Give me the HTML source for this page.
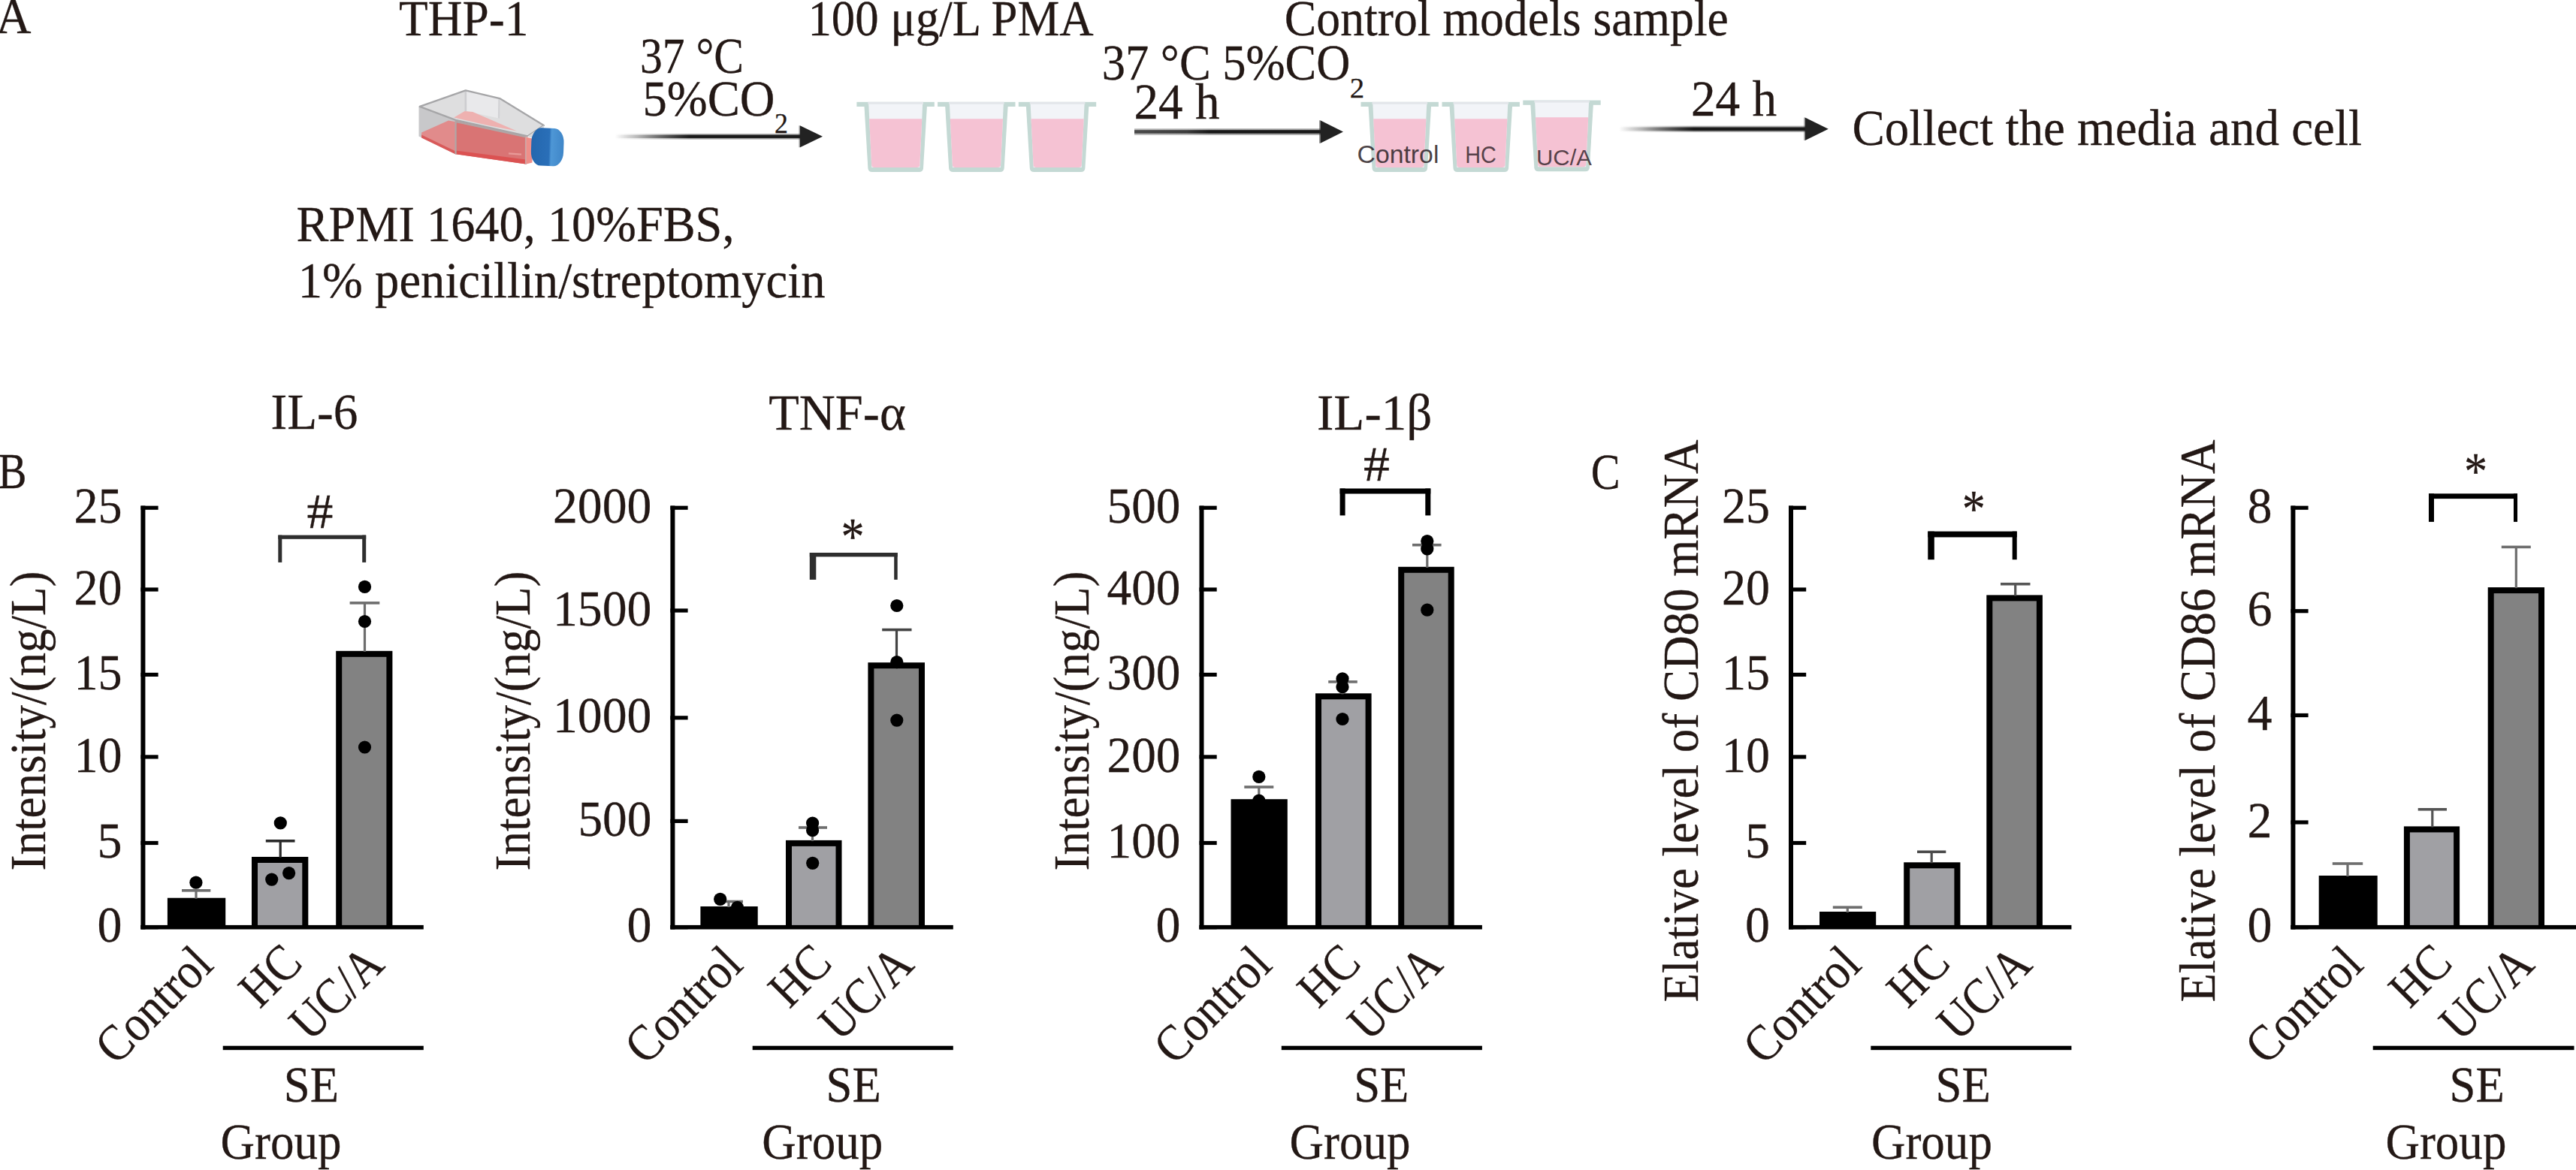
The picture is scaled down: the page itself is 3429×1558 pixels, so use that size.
<!DOCTYPE html>
<html><head><meta charset="utf-8"><title>Figure</title>
<style>html,body{margin:0;padding:0;background:#fff;}body{width:3429px;height:1558px;overflow:hidden;}svg{display:block;}.s{font-family:"Liberation Serif",serif;stroke:#231815;stroke-width:0.3px;}.n{font-family:"Liberation Sans",sans-serif;}</style></head><body>
<svg width="3429" height="1558" viewBox="0 0 3429 1558">
<defs>
<linearGradient id="fade" x1="0" y1="0" x2="1" y2="0"><stop offset="0" stop-color="#222" stop-opacity="0"/><stop offset="0.12" stop-color="#222" stop-opacity="0.25"/><stop offset="0.40" stop-color="#1a1a1a" stop-opacity="1"/><stop offset="1" stop-color="#1a1a1a" stop-opacity="1"/></linearGradient>
<linearGradient id="gray" x1="0" y1="0" x2="1" y2="0"><stop offset="0" stop-color="#4a4a4a"/><stop offset="0.28" stop-color="#3c3c3c"/><stop offset="0.40" stop-color="#181818"/><stop offset="1" stop-color="#181818"/></linearGradient>
<linearGradient id="capg" x1="0" y1="0" x2="1" y2="0"><stop offset="0" stop-color="#2467ae"/><stop offset="0.55" stop-color="#2a6fb8"/><stop offset="0.62" stop-color="#4e97d6"/><stop offset="1" stop-color="#3f86c8"/></linearGradient>
</defs>
<rect x="0.0" y="0.0" width="3429.0" height="1558.0" fill="#fff"/>
<text class="s" x="-5.5" y="44.3" font-size="68" fill="#231815" textLength="47.0" lengthAdjust="spacingAndGlyphs">A</text>
<text class="s" x="531.0" y="47.2" font-size="68" fill="#231815" textLength="172.5" lengthAdjust="spacingAndGlyphs">THP-1</text>
<text class="s" x="851.9" y="96.9" font-size="68" fill="#231815" textLength="138.1" lengthAdjust="spacingAndGlyphs">37 °C</text>
<text class="s" x="855.5" y="153.7" font-size="68" fill="#231815" textLength="176.0" lengthAdjust="spacingAndGlyphs">5%CO</text>
<text class="s" x="1031.0" y="177.3" font-size="38" fill="#231815" textLength="17.9" lengthAdjust="spacingAndGlyphs">2</text>
<text class="s" x="394.5" y="321.4" font-size="68" fill="#231815" textLength="583.0" lengthAdjust="spacingAndGlyphs">RPMI 1640, 10%FBS,</text>
<text class="s" x="396.8" y="396.0" font-size="68" fill="#231815" textLength="701.7" lengthAdjust="spacingAndGlyphs">1% penicillin/streptomycin</text>
<text class="s" x="1075.4" y="46.6" font-size="68" fill="#231815" textLength="380.3" lengthAdjust="spacingAndGlyphs">100 μg/L PMA</text>
<text class="s" x="1466.7" y="106.2" font-size="68" fill="#231815" textLength="330.8" lengthAdjust="spacingAndGlyphs">37 °C 5%CO</text>
<text class="s" x="1796.7" y="129.5" font-size="38" fill="#231815" textLength="19.4" lengthAdjust="spacingAndGlyphs">2</text>
<text class="s" x="1509.5" y="158.4" font-size="68" fill="#231815" textLength="114.0" lengthAdjust="spacingAndGlyphs">24 h</text>
<text class="s" x="1709.8" y="46.6" font-size="68" fill="#231815" textLength="591.1" lengthAdjust="spacingAndGlyphs">Control models sample</text>
<text class="s" x="2250.9" y="153.7" font-size="68" fill="#231815" textLength="114.2" lengthAdjust="spacingAndGlyphs">24 h</text>
<text class="s" x="2465.5" y="193.3" font-size="68" fill="#231815" textLength="678.5" lengthAdjust="spacingAndGlyphs">Collect the media and cell</text>
<rect x="818.6" y="178.0" width="247.9" height="7.6" fill="url(#fade)" opacity="0.38"/>
<rect x="818.6" y="179.7" width="247.9" height="4.2" fill="url(#fade)"/>
<polygon points="1063.5,167.3 1063.5,196.3 1065.0,196.3 1065.0,167.3" fill="#222" opacity="0.45"/>
<polygon points="1065.0,167.3 1095.0,181.8 1065.0,196.3" fill="#222"/>
<rect x="1510.0" y="171.2" width="249.0" height="8.7" fill="url(#gray)" opacity="0.38"/>
<rect x="1510.0" y="173.2" width="249.0" height="4.5" fill="url(#gray)"/>
<polygon points="1756.0,160.2 1756.0,190.8 1757.5,190.8 1757.5,160.2" fill="#222" opacity="0.45"/>
<polygon points="1757.5,160.2 1788.0,175.5 1757.5,190.8" fill="#222"/>
<rect x="2155.0" y="167.6" width="249.3" height="8.4" fill="url(#fade)" opacity="0.38"/>
<rect x="2155.0" y="169.5" width="249.3" height="4.6" fill="url(#fade)"/>
<polygon points="2401.3,156.6 2401.3,187.0 2402.8,187.0 2402.8,156.6" fill="#222" opacity="0.45"/>
<polygon points="2402.8,156.6 2433.8,171.8 2402.8,187.0" fill="#222"/>
<g id="flask">
<polygon points="557.5,142 606.6,160 606.6,205.3 557.5,181.4" fill="#c8c8ca"/>
<polygon points="558.7,141.9 619.8,120.3 665.2,131.1 723.9,167 702.3,181.4 606.6,159.8" fill="#dededf"/>
<polygon points="619.8,120.3 665.2,131.1 664,157.4 620,148" fill="#e9e9eb"/>
<line x1="619.8" y1="121" x2="619.9" y2="148" stroke="#cdcdd0" stroke-width="2.6"/>
<line x1="664.4" y1="132.3" x2="664" y2="157.4" stroke="#d2d2d5" stroke-width="2.2"/>
<polygon points="604.2,156.4 618.6,148 629.3,149 688,174.4 649.7,167" fill="#eeb1b0"/>
<polygon points="561.1,176.6 597,160.6 606.6,162.2 606.6,205.3 561.1,182.8" fill="#e18b8b"/>
<polygon points="561.1,179.5 606.6,201.5 606.6,205.6 561.1,183.6" fill="#d95a5a"/>
<polygon points="606.6,160.6 699.9,181.2 699.9,218.5 606.6,205.3" fill="#d97474"/>
<polygon points="606.6,200.6 699.9,212.6 699.9,218.5 606.6,205.3" fill="#db5252"/>
<polygon points="677,203.2 694,204.6 694,206.8 677,205.4" fill="#e89a98"/>
<polygon points="558.7,141.9 619.8,120.3 665.2,131.1 723.9,167 702.3,181.4 606.6,159.8" fill="none" stroke="#a6a6a8" stroke-width="2.3" stroke-linejoin="round"/>
<polyline points="606.6,205.3 606.6,162 700.5,182.5" fill="none" stroke="#b0a6a6" stroke-width="2.2"/>
<line x1="699.9" y1="181.5" x2="699.9" y2="219" stroke="#c9a5a5" stroke-width="2"/>
<polygon points="700.5,182.6 708.5,184.5 708.5,216.5 700.5,218.6" fill="#ee8f8a"/>
<polygon points="702.3,181.4 723.9,167 723.9,172 708.3,184" fill="#dadadc"/>
<rect x="707.1" y="170.6" width="43.2" height="50.3" rx="13" ry="19" fill="url(#capg)" transform="rotate(2 728.7 195.7)"/>
</g>
<g transform="translate(1140.4,135.8)">
<rect x="0" y="0" width="103.4" height="6.2" fill="#c4d9d4"/>
<path d="M9.9,3 L93.7,3 L88.6,88.1 Q88.3,93.1 83,93.1 L20.6,93.1 Q15.3,93.1 15,88.1 Z" fill="#c4d9d4"/>
<path d="M15.8,1.5 L87.8,1.5 L83.9,87.1 L19.9,87.1 Z" fill="#f2f4f8"/>
<rect x="15" y="0" width="73.6" height="3" fill="#e3e6ea"/>
<path d="M16.7,22.5 L86.9,22.5 L83.9,84.1 Q83.7,87.1 80,87.1 L23.6,87.1 Q20,87.1 19.8,84.1 Z" fill="#f5c2d3"/>
</g>
<g transform="translate(1248.1,135.8)">
<rect x="0" y="0" width="103.4" height="6.2" fill="#c4d9d4"/>
<path d="M9.9,3 L93.7,3 L88.6,88.1 Q88.3,93.1 83,93.1 L20.6,93.1 Q15.3,93.1 15,88.1 Z" fill="#c4d9d4"/>
<path d="M15.8,1.5 L87.8,1.5 L83.9,87.1 L19.9,87.1 Z" fill="#f2f4f8"/>
<rect x="15" y="0" width="73.6" height="3" fill="#e3e6ea"/>
<path d="M16.7,22.5 L86.9,22.5 L83.9,84.1 Q83.7,87.1 80,87.1 L23.6,87.1 Q20,87.1 19.8,84.1 Z" fill="#f5c2d3"/>
</g>
<g transform="translate(1355.8,135.8)">
<rect x="0" y="0" width="103.4" height="6.2" fill="#c4d9d4"/>
<path d="M9.9,3 L93.7,3 L88.6,88.1 Q88.3,93.1 83,93.1 L20.6,93.1 Q15.3,93.1 15,88.1 Z" fill="#c4d9d4"/>
<path d="M15.8,1.5 L87.8,1.5 L83.9,87.1 L19.9,87.1 Z" fill="#f2f4f8"/>
<rect x="15" y="0" width="73.6" height="3" fill="#e3e6ea"/>
<path d="M16.7,22.5 L86.9,22.5 L83.9,84.1 Q83.7,87.1 80,87.1 L23.6,87.1 Q20,87.1 19.8,84.1 Z" fill="#f5c2d3"/>
</g>
<g transform="translate(1811.5,135.8)">
<rect x="0" y="0" width="103.4" height="6.2" fill="#c4d9d4"/>
<path d="M9.9,3 L93.7,3 L88.6,88.1 Q88.3,93.1 83,93.1 L20.6,93.1 Q15.3,93.1 15,88.1 Z" fill="#c4d9d4"/>
<path d="M15.8,1.5 L87.8,1.5 L83.9,87.1 L19.9,87.1 Z" fill="#f2f4f8"/>
<rect x="15" y="0" width="73.6" height="3" fill="#e3e6ea"/>
<path d="M16.7,22.5 L86.9,22.5 L83.9,84.1 Q83.7,87.1 80,87.1 L23.6,87.1 Q20,87.1 19.8,84.1 Z" fill="#f5c2d3"/>
</g>
<g transform="translate(1919.5,135.8)">
<rect x="0" y="0" width="103.4" height="6.2" fill="#c4d9d4"/>
<path d="M9.9,3 L93.7,3 L88.6,88.1 Q88.3,93.1 83,93.1 L20.6,93.1 Q15.3,93.1 15,88.1 Z" fill="#c4d9d4"/>
<path d="M15.8,1.5 L87.8,1.5 L83.9,87.1 L19.9,87.1 Z" fill="#f2f4f8"/>
<rect x="15" y="0" width="73.6" height="3" fill="#e3e6ea"/>
<path d="M16.7,22.5 L86.9,22.5 L83.9,84.1 Q83.7,87.1 80,87.1 L23.6,87.1 Q20,87.1 19.8,84.1 Z" fill="#f5c2d3"/>
</g>
<g transform="translate(2027.3,133.6)">
<rect x="0" y="0" width="103.4" height="6.2" fill="#c4d9d4"/>
<path d="M9.9,3 L93.7,3 L88.6,89.6 Q88.3,94.6 83,94.6 L20.6,94.6 Q15.3,94.6 15,89.6 Z" fill="#c4d9d4"/>
<path d="M15.8,1.5 L87.8,1.5 L83.9,88.6 L19.9,88.6 Z" fill="#f2f4f8"/>
<rect x="15" y="0" width="73.6" height="3" fill="#e3e6ea"/>
<path d="M16.7,22.6 L86.9,22.6 L83.9,85.6 Q83.7,88.6 80,88.6 L23.6,88.6 Q20,88.6 19.8,85.6 Z" fill="#f5c2d3"/>
</g>
<text class="n" x="1806.5" y="217.1" font-size="33.5" fill="#2b2226" textLength="108.9" lengthAdjust="spacingAndGlyphs" fill-opacity="0.85">Control</text>
<text class="n" x="1950.3" y="217.1" font-size="30.5" fill="#3a2a30" textLength="41.6" lengthAdjust="spacingAndGlyphs" fill-opacity="0.85">HC</text>
<text class="n" x="2045.0" y="219.9" font-size="30" fill="#3a2a30" textLength="74.0" lengthAdjust="spacingAndGlyphs" fill-opacity="0.85">UC/A</text>
<rect x="222.9" y="1195.7" width="77.3" height="39.0" fill="#000"/>
<rect x="335.0" y="1141.0" width="75.3" height="93.7" fill="#000"/>
<rect x="343.0" y="1149.0" width="59.3" height="85.7" fill="#a0a0a4"/>
<rect x="447.2" y="866.8" width="75.2" height="367.9" fill="#000"/>
<rect x="455.2" y="874.8" width="59.2" height="359.9" fill="#828282"/>
<rect x="259.4" y="1185.8" width="3.2" height="10.9" fill="#6e6e6e"/>
<rect x="242.0" y="1184.0" width="38.3" height="3.6" fill="#6e6e6e"/>
<rect x="371.6" y="1119.8" width="3.2" height="22.2" fill="#2a2a2a"/>
<rect x="353.8" y="1118.0" width="38.7" height="3.6" fill="#2a2a2a"/>
<rect x="483.9" y="802.9" width="3.2" height="64.9" fill="#6e6e6e"/>
<rect x="465.6" y="801.1" width="39.7" height="3.6" fill="#6e6e6e"/>
<circle cx="260.9" cy="1175.2" r="8.6" fill="#000"/>
<circle cx="373.3" cy="1095.9" r="8.6" fill="#000"/>
<circle cx="361.7" cy="1171.1" r="8.6" fill="#000"/>
<circle cx="384.6" cy="1162.6" r="8.6" fill="#000"/>
<circle cx="485.5" cy="781.4" r="8.6" fill="#000"/>
<circle cx="485.5" cy="827.5" r="8.6" fill="#000"/>
<circle cx="485.5" cy="995.0" r="8.6" fill="#000"/>
<rect x="187.4" y="673.5" width="6.0" height="564.0" fill="#000"/>
<rect x="187.4" y="1231.9" width="376.4" height="5.6" fill="#000"/>
<rect x="187.4" y="1232.1" width="23.2" height="5.2" fill="#000"/>
<rect x="187.4" y="1119.9" width="23.2" height="5.2" fill="#000"/>
<rect x="187.4" y="1005.3" width="23.2" height="5.2" fill="#000"/>
<rect x="187.4" y="895.8" width="23.2" height="5.2" fill="#000"/>
<rect x="187.4" y="782.4" width="23.2" height="5.2" fill="#000"/>
<rect x="187.4" y="673.6" width="23.2" height="5.2" fill="#000"/>
<text class="s" x="129.4" y="1254.3" font-size="68" fill="#231815" textLength="33.0" lengthAdjust="spacingAndGlyphs">0</text>
<text class="s" x="129.4" y="1142.1" font-size="68" fill="#231815" textLength="33.0" lengthAdjust="spacingAndGlyphs">5</text>
<text class="s" x="98.4" y="1027.5" font-size="68" fill="#231815" textLength="64.0" lengthAdjust="spacingAndGlyphs">10</text>
<text class="s" x="98.4" y="918.0" font-size="68" fill="#231815" textLength="64.0" lengthAdjust="spacingAndGlyphs">15</text>
<text class="s" x="98.4" y="804.6" font-size="68" fill="#231815" textLength="64.0" lengthAdjust="spacingAndGlyphs">20</text>
<text class="s" x="98.4" y="695.8" font-size="68" fill="#231815" textLength="64.0" lengthAdjust="spacingAndGlyphs">25</text>
<rect x="370.3" y="712.6" width="116.9" height="5.2" fill="#2e2e2e"/>
<rect x="370.3" y="712.6" width="5.0" height="36.3" fill="#2e2e2e"/>
<rect x="482.2" y="712.6" width="5.0" height="36.3" fill="#2e2e2e"/>
<text class="s" x="408.4" y="703.4" font-size="65" fill="#231815" textLength="34.9" lengthAdjust="spacingAndGlyphs">#</text>
<g transform="translate(286.6,1287.8) rotate(-45)"><text class="s" x="-187.0" y="0" font-size="68" fill="#231815" textLength="187.0" lengthAdjust="spacingAndGlyphs">Control</text></g>
<g transform="translate(405.2,1285.2) rotate(-45)"><text class="s" x="-84.0" y="0" font-size="68" fill="#231815" textLength="84.0" lengthAdjust="spacingAndGlyphs">HC</text></g>
<g transform="translate(514.0,1287.5) rotate(-45)"><text class="s" x="-143.0" y="0" font-size="68" fill="#231815" textLength="143.0" lengthAdjust="spacingAndGlyphs">UC/A</text></g>
<rect x="296.7" y="1392.7" width="267.1" height="5.5" fill="#000"/>
<text class="s" x="377.8" y="1466.6" font-size="68" fill="#231815" textLength="73.2" lengthAdjust="spacingAndGlyphs">SE</text>
<text class="s" x="293.5" y="1542.6" font-size="68" fill="#231815" textLength="161.0" lengthAdjust="spacingAndGlyphs">Group</text>
<g transform="translate(59.8,1159.5) rotate(-90)"><text class="s" x="0" y="0" font-size="68" fill="#231815" textLength="399.0" lengthAdjust="spacingAndGlyphs">Intensity/(ng/L)</text></g>
<text class="s" x="360.5" y="570.8" font-size="68" fill="#231815" textLength="116.0" lengthAdjust="spacingAndGlyphs">IL-6</text>
<rect x="932.4" y="1207.0" width="76.3" height="27.7" fill="#000"/>
<rect x="1046.0" y="1118.9" width="74.5" height="115.8" fill="#000"/>
<rect x="1054.0" y="1126.9" width="58.5" height="107.8" fill="#a0a0a4"/>
<rect x="1155.4" y="882.2" width="75.6" height="352.5" fill="#000"/>
<rect x="1163.4" y="890.2" width="59.6" height="344.5" fill="#828282"/>
<rect x="968.4" y="1200.5" width="3.2" height="7.5" fill="#6e6e6e"/>
<rect x="958.0" y="1198.7" width="31.0" height="3.6" fill="#6e6e6e"/>
<rect x="1079.9" y="1102.0" width="3.2" height="17.9" fill="#6e6e6e"/>
<rect x="1063.0" y="1100.2" width="38.0" height="3.6" fill="#6e6e6e"/>
<rect x="1191.9" y="838.6" width="3.2" height="44.6" fill="#444"/>
<rect x="1174.2" y="836.8" width="39.3" height="3.6" fill="#444"/>
<circle cx="958.7" cy="1197.3" r="8.6" fill="#000"/>
<circle cx="981.5" cy="1208.3" r="8.6" fill="#000"/>
<circle cx="1081.6" cy="1096.0" r="8.6" fill="#000"/>
<circle cx="1081.6" cy="1105.7" r="8.6" fill="#000"/>
<circle cx="1081.7" cy="1149.3" r="8.6" fill="#000"/>
<circle cx="1193.8" cy="806.5" r="8.6" fill="#000"/>
<circle cx="1193.8" cy="881.7" r="8.6" fill="#000"/>
<circle cx="1193.8" cy="959.1" r="8.6" fill="#000"/>
<rect x="892.4" y="673.5" width="6.0" height="564.0" fill="#000"/>
<rect x="892.4" y="1231.9" width="376.4" height="5.6" fill="#000"/>
<rect x="892.4" y="1232.1" width="23.2" height="5.2" fill="#000"/>
<rect x="892.4" y="1090.8" width="23.2" height="5.2" fill="#000"/>
<rect x="892.4" y="953.2" width="23.2" height="5.2" fill="#000"/>
<rect x="892.4" y="810.4" width="23.2" height="5.2" fill="#000"/>
<rect x="892.4" y="673.6" width="23.2" height="5.2" fill="#000"/>
<text class="s" x="834.4" y="1254.3" font-size="68" fill="#231815" textLength="33.0" lengthAdjust="spacingAndGlyphs">0</text>
<text class="s" x="769.4" y="1113.0" font-size="68" fill="#231815" textLength="98.0" lengthAdjust="spacingAndGlyphs">500</text>
<text class="s" x="735.9" y="975.4" font-size="68" fill="#231815" textLength="131.5" lengthAdjust="spacingAndGlyphs">1000</text>
<text class="s" x="735.9" y="832.6" font-size="68" fill="#231815" textLength="131.5" lengthAdjust="spacingAndGlyphs">1500</text>
<text class="s" x="735.9" y="695.8" font-size="68" fill="#231815" textLength="131.5" lengthAdjust="spacingAndGlyphs">2000</text>
<rect x="1077.8" y="736.0" width="116.9" height="5.4" fill="#2e2e2e"/>
<rect x="1077.8" y="736.0" width="8.5" height="35.9" fill="#2e2e2e"/>
<rect x="1190.2" y="736.0" width="4.5" height="35.9" fill="#2e2e2e"/>
<text class="s" x="1119.5" y="738.0" font-size="70" fill="#231815" textLength="31.1" lengthAdjust="spacingAndGlyphs">*</text>
<g transform="translate(991.6,1287.8) rotate(-45)"><text class="s" x="-187.0" y="0" font-size="68" fill="#231815" textLength="187.0" lengthAdjust="spacingAndGlyphs">Control</text></g>
<g transform="translate(1110.2,1285.2) rotate(-45)"><text class="s" x="-84.0" y="0" font-size="68" fill="#231815" textLength="84.0" lengthAdjust="spacingAndGlyphs">HC</text></g>
<g transform="translate(1219.0,1287.5) rotate(-45)"><text class="s" x="-143.0" y="0" font-size="68" fill="#231815" textLength="143.0" lengthAdjust="spacingAndGlyphs">UC/A</text></g>
<rect x="1001.7" y="1392.7" width="267.1" height="5.5" fill="#000"/>
<text class="s" x="1099.5" y="1466.6" font-size="68" fill="#231815" textLength="73.2" lengthAdjust="spacingAndGlyphs">SE</text>
<text class="s" x="1014.2" y="1542.6" font-size="68" fill="#231815" textLength="161.0" lengthAdjust="spacingAndGlyphs">Group</text>
<g transform="translate(705.0,1159.5) rotate(-90)"><text class="s" x="0" y="0" font-size="68" fill="#231815" textLength="399.0" lengthAdjust="spacingAndGlyphs">Intensity/(ng/L)</text></g>
<text class="s" x="1023.2" y="571.8" font-size="68" fill="#231815" textLength="182.6" lengthAdjust="spacingAndGlyphs">TNF-α</text>
<rect x="1638.5" y="1064.2" width="75.3" height="170.5" fill="#000"/>
<rect x="1751.0" y="923.3" width="74.6" height="311.4" fill="#000"/>
<rect x="1759.0" y="931.3" width="58.6" height="303.4" fill="#a0a0a4"/>
<rect x="1861.2" y="754.8" width="74.5" height="479.9" fill="#000"/>
<rect x="1869.2" y="762.8" width="58.5" height="471.9" fill="#828282"/>
<rect x="1674.2" y="1048.0" width="3.2" height="17.2" fill="#6e6e6e"/>
<rect x="1656.3" y="1046.2" width="39.0" height="3.6" fill="#6e6e6e"/>
<rect x="1785.4" y="907.9" width="3.2" height="16.4" fill="#6e6e6e"/>
<rect x="1768.2" y="906.1" width="38.6" height="3.6" fill="#6e6e6e"/>
<rect x="1898.2" y="725.7" width="3.2" height="30.1" fill="#6e6e6e"/>
<rect x="1880.0" y="723.9" width="38.6" height="3.6" fill="#6e6e6e"/>
<circle cx="1675.8" cy="1034.4" r="8.6" fill="#000"/>
<circle cx="1675.8" cy="1066.0" r="8.6" fill="#000"/>
<circle cx="1787.0" cy="903.8" r="8.6" fill="#000"/>
<circle cx="1787.0" cy="914.7" r="8.6" fill="#000"/>
<circle cx="1787.0" cy="957.5" r="8.6" fill="#000"/>
<circle cx="1899.8" cy="720.6" r="8.6" fill="#000"/>
<circle cx="1899.8" cy="730.9" r="8.6" fill="#000"/>
<circle cx="1899.8" cy="812.2" r="8.6" fill="#000"/>
<rect x="1596.5" y="673.5" width="6.0" height="564.0" fill="#000"/>
<rect x="1596.5" y="1231.9" width="376.4" height="5.6" fill="#000"/>
<rect x="1596.5" y="1232.1" width="23.2" height="5.2" fill="#000"/>
<rect x="1596.5" y="1119.9" width="23.2" height="5.2" fill="#000"/>
<rect x="1596.5" y="1005.3" width="23.2" height="5.2" fill="#000"/>
<rect x="1596.5" y="895.8" width="23.2" height="5.2" fill="#000"/>
<rect x="1596.5" y="782.4" width="23.2" height="5.2" fill="#000"/>
<rect x="1596.5" y="673.6" width="23.2" height="5.2" fill="#000"/>
<text class="s" x="1538.5" y="1254.3" font-size="68" fill="#231815" textLength="33.0" lengthAdjust="spacingAndGlyphs">0</text>
<text class="s" x="1473.5" y="1142.1" font-size="68" fill="#231815" textLength="98.0" lengthAdjust="spacingAndGlyphs">100</text>
<text class="s" x="1473.5" y="1027.5" font-size="68" fill="#231815" textLength="98.0" lengthAdjust="spacingAndGlyphs">200</text>
<text class="s" x="1473.5" y="918.0" font-size="68" fill="#231815" textLength="98.0" lengthAdjust="spacingAndGlyphs">300</text>
<text class="s" x="1473.5" y="804.6" font-size="68" fill="#231815" textLength="98.0" lengthAdjust="spacingAndGlyphs">400</text>
<text class="s" x="1473.5" y="695.8" font-size="68" fill="#231815" textLength="98.0" lengthAdjust="spacingAndGlyphs">500</text>
<rect x="1783.6" y="650.5" width="120.7" height="7.0" fill="#000"/>
<rect x="1783.6" y="650.5" width="7.0" height="35.9" fill="#000"/>
<rect x="1897.3" y="650.5" width="7.0" height="35.9" fill="#000"/>
<text class="s" x="1815.1" y="640.2" font-size="65" fill="#231815" textLength="34.9" lengthAdjust="spacingAndGlyphs">#</text>
<g transform="translate(1695.7,1287.8) rotate(-45)"><text class="s" x="-187.0" y="0" font-size="68" fill="#231815" textLength="187.0" lengthAdjust="spacingAndGlyphs">Control</text></g>
<g transform="translate(1814.3,1285.2) rotate(-45)"><text class="s" x="-84.0" y="0" font-size="68" fill="#231815" textLength="84.0" lengthAdjust="spacingAndGlyphs">HC</text></g>
<g transform="translate(1923.1,1287.5) rotate(-45)"><text class="s" x="-143.0" y="0" font-size="68" fill="#231815" textLength="143.0" lengthAdjust="spacingAndGlyphs">UC/A</text></g>
<rect x="1705.8" y="1392.7" width="267.1" height="5.5" fill="#000"/>
<text class="s" x="1802.2" y="1466.6" font-size="68" fill="#231815" textLength="73.2" lengthAdjust="spacingAndGlyphs">SE</text>
<text class="s" x="1716.5" y="1542.6" font-size="68" fill="#231815" textLength="161.0" lengthAdjust="spacingAndGlyphs">Group</text>
<g transform="translate(1449.4,1159.5) rotate(-90)"><text class="s" x="0" y="0" font-size="68" fill="#231815" textLength="399.0" lengthAdjust="spacingAndGlyphs">Intensity/(ng/L)</text></g>
<text class="s" x="1753.0" y="571.8" font-size="68" fill="#231815" textLength="153.5" lengthAdjust="spacingAndGlyphs">IL-1β</text>
<rect x="2422.0" y="1214.0" width="75.2" height="20.7" fill="#000"/>
<rect x="2534.2" y="1148.3" width="75.2" height="86.4" fill="#000"/>
<rect x="2542.2" y="1156.3" width="59.2" height="78.4" fill="#a0a0a4"/>
<rect x="2644.3" y="792.4" width="74.6" height="442.3" fill="#000"/>
<rect x="2652.3" y="800.4" width="58.6" height="434.3" fill="#828282"/>
<rect x="2457.7" y="1208.2" width="3.2" height="6.8" fill="#6e6e6e"/>
<rect x="2439.8" y="1206.4" width="39.0" height="3.6" fill="#6e6e6e"/>
<rect x="2569.6" y="1134.3" width="3.2" height="15.0" fill="#4a4a4a"/>
<rect x="2552.0" y="1132.5" width="38.3" height="3.6" fill="#4a4a4a"/>
<rect x="2681.1" y="777.7" width="3.2" height="15.7" fill="#555"/>
<rect x="2663.0" y="775.9" width="39.5" height="3.6" fill="#555"/>
<rect x="2381.0" y="673.5" width="6.0" height="564.0" fill="#000"/>
<rect x="2381.0" y="1231.9" width="376.4" height="5.6" fill="#000"/>
<rect x="2381.0" y="1232.1" width="23.2" height="5.2" fill="#000"/>
<rect x="2381.0" y="1119.9" width="23.2" height="5.2" fill="#000"/>
<rect x="2381.0" y="1005.3" width="23.2" height="5.2" fill="#000"/>
<rect x="2381.0" y="895.8" width="23.2" height="5.2" fill="#000"/>
<rect x="2381.0" y="782.4" width="23.2" height="5.2" fill="#000"/>
<rect x="2381.0" y="673.6" width="23.2" height="5.2" fill="#000"/>
<text class="s" x="2323.0" y="1254.3" font-size="68" fill="#231815" textLength="33.0" lengthAdjust="spacingAndGlyphs">0</text>
<text class="s" x="2323.0" y="1142.1" font-size="68" fill="#231815" textLength="33.0" lengthAdjust="spacingAndGlyphs">5</text>
<text class="s" x="2292.0" y="1027.5" font-size="68" fill="#231815" textLength="64.0" lengthAdjust="spacingAndGlyphs">10</text>
<text class="s" x="2292.0" y="918.0" font-size="68" fill="#231815" textLength="64.0" lengthAdjust="spacingAndGlyphs">15</text>
<text class="s" x="2292.0" y="804.6" font-size="68" fill="#231815" textLength="64.0" lengthAdjust="spacingAndGlyphs">20</text>
<text class="s" x="2292.0" y="695.8" font-size="68" fill="#231815" textLength="64.0" lengthAdjust="spacingAndGlyphs">25</text>
<rect x="2566.3" y="707.6" width="118.4" height="7.8" fill="#000"/>
<rect x="2566.3" y="707.6" width="8.5" height="37.6" fill="#000"/>
<rect x="2678.7" y="707.6" width="6.0" height="37.6" fill="#000"/>
<text class="s" x="2611.7" y="701.3" font-size="70" fill="#231815" textLength="31.1" lengthAdjust="spacingAndGlyphs">*</text>
<g transform="translate(2480.2,1287.8) rotate(-45)"><text class="s" x="-187.0" y="0" font-size="68" fill="#231815" textLength="187.0" lengthAdjust="spacingAndGlyphs">Control</text></g>
<g transform="translate(2598.8,1285.2) rotate(-45)"><text class="s" x="-84.0" y="0" font-size="68" fill="#231815" textLength="84.0" lengthAdjust="spacingAndGlyphs">HC</text></g>
<g transform="translate(2707.6,1287.5) rotate(-45)"><text class="s" x="-143.0" y="0" font-size="68" fill="#231815" textLength="143.0" lengthAdjust="spacingAndGlyphs">UC/A</text></g>
<rect x="2490.3" y="1392.7" width="267.1" height="5.5" fill="#000"/>
<text class="s" x="2576.5" y="1466.6" font-size="68" fill="#231815" textLength="73.2" lengthAdjust="spacingAndGlyphs">SE</text>
<text class="s" x="2490.9" y="1542.6" font-size="68" fill="#231815" textLength="161.0" lengthAdjust="spacingAndGlyphs">Group</text>
<g transform="translate(2259.6,1334.6) rotate(-90)"><text class="s" x="0" y="0" font-size="68" fill="#231815" textLength="749.0" lengthAdjust="spacingAndGlyphs">Elative level of CD80 mRNA</text></g>
<text class="s" x="2117.8" y="651.0" font-size="68" fill="#231815" textLength="38.9" lengthAdjust="spacingAndGlyphs">C</text>
<text class="s" x="-2.5" y="650.4" font-size="68" fill="#231815" textLength="38.0" lengthAdjust="spacingAndGlyphs">B</text>
<rect x="3086.7" y="1166.0" width="78.0" height="68.7" fill="#000"/>
<rect x="3199.9" y="1100.4" width="74.2" height="134.3" fill="#000"/>
<rect x="3207.9" y="1108.4" width="58.2" height="126.3" fill="#a0a0a4"/>
<rect x="3311.7" y="782.1" width="75.3" height="452.6" fill="#000"/>
<rect x="3319.7" y="790.1" width="59.3" height="444.6" fill="#828282"/>
<rect x="3123.4" y="1150.0" width="3.2" height="17.0" fill="#6e6e6e"/>
<rect x="3104.8" y="1148.2" width="40.4" height="3.6" fill="#6e6e6e"/>
<rect x="3236.2" y="1077.8" width="3.2" height="23.6" fill="#555"/>
<rect x="3218.7" y="1076.0" width="38.3" height="3.6" fill="#555"/>
<rect x="3347.7" y="728.4" width="3.2" height="54.7" fill="#6e6e6e"/>
<rect x="3329.8" y="726.6" width="39.0" height="3.6" fill="#6e6e6e"/>
<rect x="3049.4" y="673.5" width="6.0" height="564.0" fill="#000"/>
<rect x="3049.4" y="1231.9" width="379.6" height="5.6" fill="#000"/>
<rect x="3049.4" y="1232.1" width="23.2" height="5.2" fill="#000"/>
<rect x="3049.4" y="1092.4" width="23.2" height="5.2" fill="#000"/>
<rect x="3049.4" y="949.9" width="23.2" height="5.2" fill="#000"/>
<rect x="3049.4" y="811.1" width="23.2" height="5.2" fill="#000"/>
<rect x="3049.4" y="673.6" width="23.2" height="5.2" fill="#000"/>
<text class="s" x="2991.4" y="1254.3" font-size="68" fill="#231815" textLength="33.0" lengthAdjust="spacingAndGlyphs">0</text>
<text class="s" x="2991.4" y="1114.6" font-size="68" fill="#231815" textLength="33.0" lengthAdjust="spacingAndGlyphs">2</text>
<text class="s" x="2991.4" y="972.1" font-size="68" fill="#231815" textLength="33.0" lengthAdjust="spacingAndGlyphs">4</text>
<text class="s" x="2991.4" y="833.3" font-size="68" fill="#231815" textLength="33.0" lengthAdjust="spacingAndGlyphs">6</text>
<text class="s" x="2991.4" y="695.8" font-size="68" fill="#231815" textLength="33.0" lengthAdjust="spacingAndGlyphs">8</text>
<rect x="3233.0" y="657.3" width="118.0" height="6.8" fill="#000"/>
<rect x="3233.0" y="657.3" width="7.0" height="37.6" fill="#000"/>
<rect x="3346.0" y="657.3" width="5.0" height="37.6" fill="#000"/>
<text class="s" x="3280.1" y="651.0" font-size="70" fill="#231815" textLength="31.1" lengthAdjust="spacingAndGlyphs">*</text>
<g transform="translate(3148.6,1287.8) rotate(-45)"><text class="s" x="-187.0" y="0" font-size="68" fill="#231815" textLength="187.0" lengthAdjust="spacingAndGlyphs">Control</text></g>
<g transform="translate(3267.2,1285.2) rotate(-45)"><text class="s" x="-84.0" y="0" font-size="68" fill="#231815" textLength="84.0" lengthAdjust="spacingAndGlyphs">HC</text></g>
<g transform="translate(3376.0,1287.5) rotate(-45)"><text class="s" x="-143.0" y="0" font-size="68" fill="#231815" textLength="143.0" lengthAdjust="spacingAndGlyphs">UC/A</text></g>
<rect x="3158.7" y="1392.7" width="267.8" height="5.5" fill="#000"/>
<text class="s" x="3260.5" y="1466.6" font-size="68" fill="#231815" textLength="73.2" lengthAdjust="spacingAndGlyphs">SE</text>
<text class="s" x="3175.4" y="1542.6" font-size="68" fill="#231815" textLength="161.0" lengthAdjust="spacingAndGlyphs">Group</text>
<g transform="translate(2948.2,1334.6) rotate(-90)"><text class="s" x="0" y="0" font-size="68" fill="#231815" textLength="749.0" lengthAdjust="spacingAndGlyphs">Elative level of CD86 mRNA</text></g>
</svg></body></html>
